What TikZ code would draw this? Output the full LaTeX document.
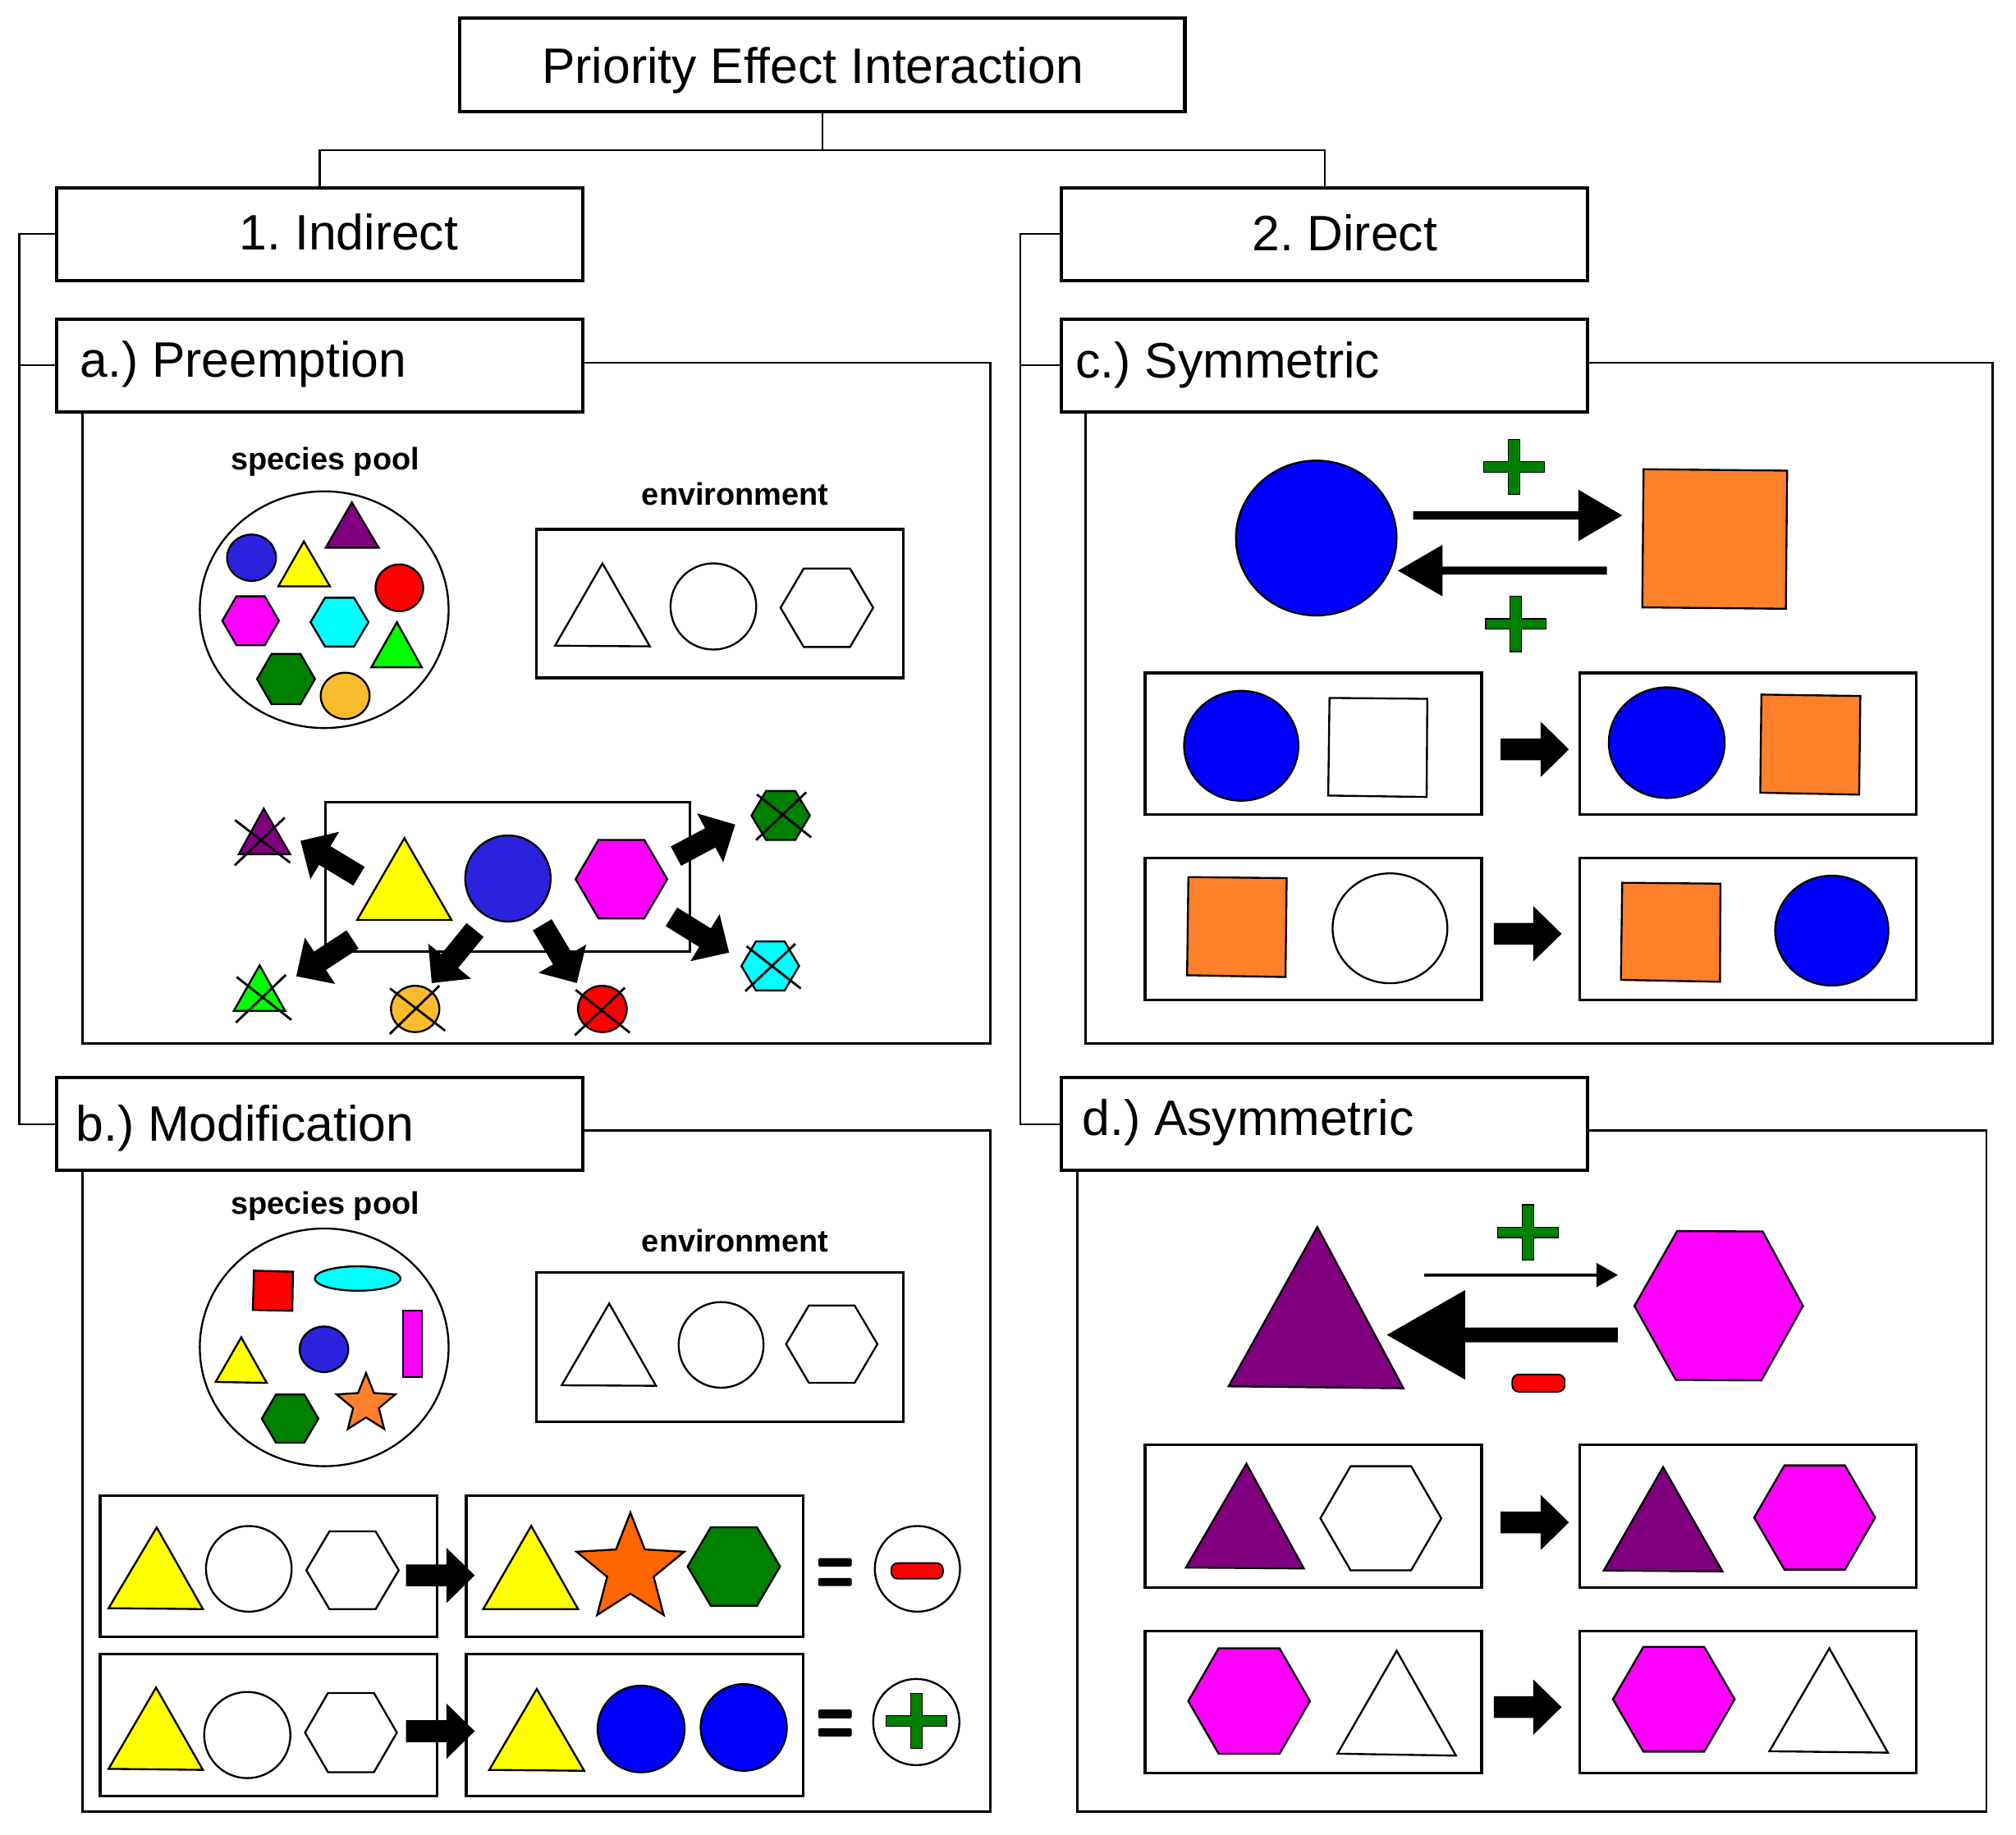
\documentclass[tikz,border=0pt]{standalone}
\usepackage{fontspec}
\setmainfont{Liberation Sans}
\usetikzlibrary{calc}
\frenchspacing
\definecolor{cpurple}{RGB}{128,0,128}
\definecolor{cyellow}{RGB}{255,255,0}
\definecolor{cpblue}{RGB}{44,34,222}
\definecolor{cblue}{RGB}{0,0,255}
\definecolor{cred}{RGB}{255,0,0}
\definecolor{cmag}{RGB}{255,0,255}
\definecolor{ccyan}{RGB}{0,255,255}
\definecolor{clime}{RGB}{0,255,0}
\definecolor{cdgreen}{RGB}{0,128,0}
\definecolor{cgold}{RGB}{250,188,45}
\definecolor{corange}{RGB}{255,128,42}
\definecolor{cdorange}{RGB}{255,102,0}
\tikzset{
 hdr/.style={draw, line width=2.6pt, inner sep=0pt, outer sep=0pt, minimum width=409pt, minimum height=72pt},
 htxt/.style={anchor=base west, inner sep=0pt, font=\fontsize{38.7}{41}\selectfont},
 lbl/.style={anchor=base, inner sep=0pt, font=\fontsize{24.2}{26}\selectfont\bfseries},
 conn/.style={line width=1.3pt},
 frame/.style={line width=1.8pt},
 boxl/.style={line width=2pt},
 shp/.style={draw, line width=1.5pt},
 xline/.style={line width=1.8pt}
}
\newcommand\mytri[4]{\filldraw[shp, fill=#4] (#1) -- (#2) -- (#3) -- cycle;}
\newcommand\myquad[5]{\filldraw[shp, fill=#5] (#1) -- (#2) -- (#3) -- (#4) -- cycle;}
\newcommand\myell[4]{\filldraw[shp, fill=#4] (#1) ellipse [x radius=#2, y radius=#3];}
\newcommand\myhex[4]{\filldraw[shp, fill=#4, shift={(#1)}] (#2,0) -- ({#2/2},#3) -- ({-#2/2},#3) -- (-#2,0) -- ({-#2/2},-#3) -- ({#2/2},-#3) -- cycle;}
\newcommand\mystar[4]{\filldraw[shp, fill=#4, shift={(#1)}] (-90:#2) -- (-54:#3) -- (-18:#2) -- (18:#3) -- (54:#2) -- (90:#3) -- (126:#2) -- (162:#3) -- (198:#2) -- (234:#3) -- cycle;}
\newcommand\myx[4]{\draw[xline] (#1) -- (#2) (#3) -- (#4);}
\newcommand\myplus[1]{\filldraw[fill=cdgreen, line width=0.9pt, shift={(#1)}] (-23.5,-4) -- (-4.5,-4) -- (-4.5,-21.5) -- (4.5,-21.5) -- (4.5,-4) -- (23.5,-4) -- (23.5,4) -- (4.5,4) -- (4.5,21.5) -- (-4.5,21.5) -- (-4.5,4) -- (-23.5,4) -- cycle;}
\newcommand\myminus[3]{\filldraw[fill=cred, line width=1.2pt, rounded corners=5pt, shift={(#1)}] (-#2,-#3) rectangle (#2,#3);}
\newcommand\mybarrow[5]{\fill let \p1=(#1), \p2=(#2), \n1={atan2(\y2-\y1,\x2-\x1)}, \n2={veclen(\x2-\x1,\y2-\y1)} in [shift={(\p1)}, rotate=\n1] (0,#3) -- (\n2-#5,#3) -- (\n2-#5,#4) -- (\n2,0) -- (\n2-#5,-#4) -- (\n2-#5,-#3) -- (0,-#3) -- cycle;}
\newcommand\myarr[2]{\mybarrow{#1}{#2}{8.5}{21.5}{22}}
\begin{document}
\begin{tikzpicture}[x=1pt,y=-1pt]
\path[use as bounding box, fill=white] (0,0) rectangle (1567,1426.1);
% ---------- tree ----------
\node[hdr, minimum width=564pt, minimum height=73pt] (T) at (639,50.5) {};
\node[htxt] (Tt) at (421,64.6) {Priority Effect Interaction};
\node[hdr] (I) at (248.5,182) {};
\node[htxt] (It) at (186,194) {1. Indirect};
\node[hdr] (D) at (1029.5,182) {};
\node[htxt] (Dt) at (973,195) {2. Direct};
\node[hdr] (A) at (248.5,284) {};
\node[htxt] (At) at (62,293) {a.) Preemption};
\node[hdr] (C) at (1029.5,284) {};
\node[htxt] (Ct) at (836,294) {c.) Symmetric};
\node[hdr] (B) at (248.5,874) {};
\node[htxt] (Bt) at (59,887) {b.) Modification};
\node[hdr] (Dd) at (1029.5,874) {};
\node[htxt] (Ddt) at (841,883) {d.) Asymmetric};
\coordinate (j) at (639,116.5);
\coordinate (lb) at (15,0);
\coordinate (rb) at (793,0);
\draw[conn] (T.south) -- (j);
\draw[conn] (I.north) |- (j) -| (D.north);
\draw[conn] (I.west) -- (I.west -| lb) -- (B.west -| lb) -- (B.west);
\draw[conn] (A.west -| lb) -- (A.west);
\draw[conn] (D.west) -- (D.west -| rb) -- (Dd.west -| rb) -- (Dd.west);
\draw[conn] (C.west -| rb) -- (C.west);
% ---------- frames ----------
\draw[frame] (453,282) -- (770,282) -- (770,811.5) -- (64,811.5) -- (64,320);
\draw[frame] (1234,282) -- (1549,282) -- (1549,811) -- (844,811) -- (844,320);
\draw[frame] (453,879) -- (770,879) -- (770,1408.5) -- (64,1408.5) -- (64,910);
\draw[frame] (1234,879) -- (1544,879) -- (1544,1408.5) -- (837.5,1408.5) -- (837.5,910);
% ---------- panel a ----------
\node[lbl] (spa) at (252.7,365) {species pool};
\node[lbl] (ena) at (571.5,393) {environment};
\filldraw[shp, fill=white] (252,474) ellipse [x radius=96.7, y radius=92];
\myell{195.5,433.6}{19}{18}{cpblue}
\mytri{273.5,390.6}{253.2,425.8}{294.3,425.8}{cpurple}
\mytri{236.2,420.9}{216.3,455.9}{256.5,455.9}{cyellow}
\myell{310.4,457}{18.5}{18.2}{cred}
\myhex{194.8,482.6}{22}{19}{cmag}
\myhex{263.9,483.7}{22.5}{19}{ccyan}
\mytri{308.5,483.8}{288.6,518.8}{327.9,518.8}{clime}
\myhex{222.3,527.9}{22.5}{19.5}{cdgreen}
\myell{268.3,541}{19}{18}{cgold}
\draw[boxl] (417,411.5) rectangle (702,527);
\mytri{468.3,438}{431.4,502}{505.1,502.5}{white}
\myell{554.5,471.5}{33.3}{33.5}{white}
\myhex{642.7,472.5}{36}{30.5}{white}
\draw[boxl] (253,623.4) rectangle (536.5,740);
\mytri{314.3,651.6}{277.6,715.2}{350.9,715.2}{cyellow}
\myell{394.8,683}{33.2}{33.5}{cpblue}
\myhex{483,683.5}{35.6}{30.5}{cmag}
\mytri{205,628.7}{185.6,664.1}{225.5,664.1}{cpurple}
\myx{182.7,637.6}{225.5,670.7}{221.3,635.7}{182.4,672.8}
\mytri{201.8,750.5}{181.7,785.9}{221.6,785.9}{clime}
\myx{184,759.6}{226.5,792.9}{222.2,757.9}{183.4,795}
\myell{322.7,784.4}{18.8}{18}{cgold}
\myx{303.2,768.5}{346,801.3}{341.5,766.4}{302.9,803.9}
\myell{468.2,784.4}{19}{18}{cred}
\myx{447.4,769.6}{489.5,802.8}{485.7,767.9}{446.8,804.9}
\myhex{606.8,634}{22.7}{19}{cdgreen}
\myx{588.4,617.7}{630.5,651}{626.6,616}{587.7,653.1}
\myhex{598.7,751}{22.4}{19}{ccyan}
\myx{580.3,735.7}{622.4,768.5}{618.2,733.8}{579.3,770.6}
\myarr{279,681.2}{233.6,653.7}
\myarr{274.1,730.4}{230.3,759}
\myarr{369.3,723}{335.6,764.3}
\myarr{421.5,719}{448.4,764.3}
\myarr{525.4,665.6}{571.5,641}
\myarr{521.9,712.8}{566.7,740.6}
% ---------- panel c ----------
\myell{1023.1,418.3}{62.4}{60.2}{cblue}
\myquad{1277.5,364.8}{1389.1,365.9}{1388.1,473.3}{1276.5,472.2}{corange}
\mybarrow{1098.4,400.7}{1260.9,400.7}{3.3}{20}{34}
\mybarrow{1249,443.6}{1086.6,443.6}{3.1}{20}{34.6}
\myplus{1176.8,363}
\myplus{1178.2,485}
\draw[boxl] (890,523.2) rectangle (1151.6,633.2);
\draw[boxl] (1227.6,523.2) rectangle (1489.3,633.2);
\draw[boxl] (890,667.3) rectangle (1151.6,777.2);
\draw[boxl] (1227.6,667.3) rectangle (1489.3,777.2);
\myell{964.8,579.8}{44.4}{42.7}{cblue}
\myquad{1033.4,542.6}{1109.4,543.3}{1108.9,619.6}{1032.4,618.5}{white}
\myarr{1166.4,582.6}{1219.5,582.6}
\myell{1295.5,577.4}{45}{43}{cblue}
\myquad{1369.1,540}{1446,541.1}{1445.1,617.8}{1368.2,616.3}{corange}
\myquad{923.7,681.9}{1000.1,682.7}{999.2,759.6}{922.7,758.2}{corange}
\myell{1080.4,721.7}{44.6}{42.7}{white}
\myarr{1161.1,726}{1213.8,726}
\myquad{1260.9,686.3}{1337.3,687}{1336.9,763.3}{1259.9,761.8}{corange}
\myell{1423.8,723.5}{44}{42.7}{cblue}
% ---------- panel d ----------
\mytri{1023.9,954}{955,1077.8}{1090.8,1079.3}{cpurple}
\filldraw[shp, fill=cmag] (1303.6,957.1) -- (1370.1,957.4) -- (1401.4,1015.3) -- (1369.1,1073.2) -- (1302.6,1072.8) -- (1270.4,1015.3) -- cycle;
\mybarrow{1107,991.3}{1257.5,991.3}{1.2}{9.5}{16.6}
\mybarrow{1257.5,1037.8}{1078,1037.8}{5.7}{34.8}{60.8}
\myplus{1187.7,958.2}
\myminus{1195.8,1075.3}{20.4}{6.7}
\draw[boxl] (890,1123.5) rectangle (1151.6,1234.3);
\draw[boxl] (1227.6,1123.5) rectangle (1489.3,1234.3);
\draw[boxl] (890,1268.2) rectangle (1151.6,1378.6);
\draw[boxl] (1227.6,1268.2) rectangle (1489.3,1378.6);
\mytri{968.8,1138}{921.8,1218.7}{1013.4,1219.4}{cpurple}
\myhex{1073.3,1180.4}{47}{40.5}{white}
\myarr{1166.4,1183.6}{1219.5,1183.6}
\mytri{1292.7,1140.6}{1246.6,1221}{1338.8,1221.7}{cpurple}
\myhex{1410.5,1179.8}{47}{40.5}{cmag}
\myhex{970.9,1322.5}{47.3}{41}{cmag}
\mytri{1085.6,1283.4}{1039.6,1363.4}{1131.7,1364.9}{white}
\myarr{1161.1,1327.2}{1213.8,1327.2}
\myhex{1301,1321.1}{47.3}{40.7}{cmag}
\mytri{1421.9,1281.5}{1375.3,1361.5}{1467.4,1362.6}{white}
% ---------- panel b ----------
\node[lbl] (spb) at (252.7,943.7) {species pool};
\node[lbl] (enb) at (571.5,973.4) {environment};
\filldraw[shp, fill=white] (252,1047.5) ellipse [x radius=96.7, y radius=92.4];
\myquad{197.4,987.9}{227.7,988.7}{227.2,1019.1}{196.5,1018.4}{cred}
\myell{278,994}{33.3}{9.5}{ccyan}
\filldraw[shp, fill=cmag] (313.2,1018.8) rectangle (327.9,1070.5);
\mytri{187.5,1039.7}{167.6,1074.4}{207.3,1075.1}{cyellow}
\myell{251.8,1049}{18.9}{17.7}{cpblue}
\myhex{225.5,1102.9}{22}{18.7}{cdgreen}
\mystar{284.5,1091.5}{24}{10.5}{corange}
\draw[boxl] (417.2,989.4) rectangle (702.2,1105.6);
\mytri{473.5,1013.4}{436.6,1077}{509.9,1077.4}{white}
\myell{560.5,1045.6}{33}{33.3}{white}
\myhex{646.5,1045}{35.5}{30.1}{white}
\draw[boxl] (77.8,1162.7) rectangle (339.7,1272.4);
\draw[boxl] (362.4,1162.7) rectangle (624.3,1272.4);
\draw[boxl] (77.8,1285.7) rectangle (339.7,1396.1);
\draw[boxl] (362.4,1285.7) rectangle (624.3,1396.1);
\mytri{121.8,1187.5}{84.4,1250.3}{157.7,1251}{cyellow}
\myell{193.4,1219.7}{33.3}{33.3}{white}
\myhex{274,1220.8}{35.9}{30.2}{white}
\myarr{315.6,1224.8}{369,1224.8}
\mytri{412.9,1186.3}{375.6,1251}{449.3,1251}{cyellow}
\mystar{490,1220}{44}{19}{cdorange}
\myhex{570.4,1217.9}{35.9}{30.5}{cdgreen}
\fill[rounded corners=1pt] (636,1211.4) rectangle (662,1217.9);
\fill[rounded corners=1pt] (636,1226.8) rectangle (662,1233.1);
\myell{713.1,1219.7}{33.1}{33.3}{white}
\myminus{712.9,1221.3}{20.1}{6.1}
\mytri{121.3,1312}{84.4,1375.2}{157.7,1376}{cyellow}
\myell{192.2,1348.9}{33.5}{33.5}{white}
\myhex{272.8,1347}{35.7}{30.8}{white}
\myarr{315.6,1345.9}{369,1345.9}
\mytri{417.2,1313.1}{380.3,1376}{454.1,1376.7}{cyellow}
\myell{498.3,1344.2}{33.8}{33.7}{cblue}
\myell{578.1,1343}{33.5}{33.7}{cblue}
\fill[rounded corners=1pt] (636,1329.1) rectangle (662,1336);
\fill[rounded corners=1pt] (636,1343.6) rectangle (662,1350.1);
\myell{712.2,1338.8}{33.5}{33.5}{white}
\myplus{712.2,1337.9}
\end{tikzpicture}
\end{document}
